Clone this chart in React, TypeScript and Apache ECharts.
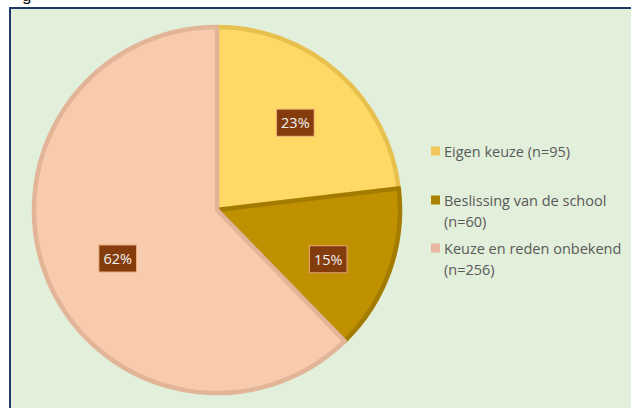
import React, { useEffect, useRef } from "react";
import * as echarts from "echarts";

const categories = ["Eigen keuze", "Beslissing van de school", "Keuze en reden onbekend"];
const counts = [95, 60, 256];
const sliceColors = ["#ffd966", "#bf9000", "#f8cbad"];
const sliceBorders = ["#e8c04e", "#a37b00", "#e2b498"];
const legendIconColors = ["#f0c85a", "#ad8200", "#e8b9a0"];
const labelNudges = [[0, 1], [0, 10], [10, 4]];

const legendName = (i: number) => `${categories[i]} (n=${counts[i]})`;

export default function App() {
  const ref = useRef<HTMLDivElement>(null);
  useEffect(() => {
    if (!ref.current) return;
    const chart = echarts.init(ref.current, undefined, { renderer: "svg" });
    const names = categories.map((_, i) => legendName(i));
    const legendTops = [140.5, 168.5, 216.5];
    const legendFmt = (name: string) => {
      const i = names.indexOf(name);
      if (i === 0) return `${categories[i]} (n=${counts[i]})`;
      return `\n${categories[i]}\n(n=${counts[i]})`;
    };
    chart.setOption({
      animation: false,
      backgroundColor: "#ffffff",
      graphic: [
        {
          type: "rect",
          shape: { x: 10, y: 8, width: 660, height: 440 },
          style: { fill: "#e2efda", stroke: "#1f3864", lineWidth: 2 },
          z: -10,
        },
        {
          type: "text",
          x: 22,
          y: -13,
          style: { text: "g", font: "17px 'Liberation Sans', sans-serif", fill: "#111" },
        },
      ],
      legend: names.map((n, i) => ({
        data: [{ name: n, itemStyle: { color: legendIconColors[i], borderWidth: 0 } }],
        orient: "vertical",
        left: 431,
        top: legendTops[i],
        padding: 0,
        itemWidth: 9,
        itemHeight: 9,
        itemGap: 0,
        icon: "rect",
        formatter: legendFmt,
        itemStyle: { borderWidth: 0 },
        textStyle: {
          color: "#595959",
          fontSize: 14.5,
          lineHeight: 21,
          fontFamily: "'Open Sans', sans-serif",
          padding: [0, 0, 0, -1],
        },
        selectedMode: false,
      })),
      series: [
        {
          type: "pie",
          center: [217, 210],
          radius: [0, 183],
          startAngle: 90,
          clockwise: true,
          silent: true,
          label: { show: false },
          labelLine: { show: false },
          data: counts.map((v, i) => ({
            name: names[i],
            value: v,
            itemStyle: { color: sliceColors[i], borderColor: sliceBorders[i], borderWidth: 4.5 },
          })),
        },
        {
          type: "pie",
          center: [217, 210],
          radius: [0, 230],
          startAngle: 90,
          clockwise: true,
          silent: true,
          percentPrecision: 0,
          itemStyle: { color: "rgba(0,0,0,0)", borderWidth: 0 },
          label: {
            show: true,
            position: "inside",
            formatter: "{d}%",
            color: "#f2f2f2",
            fontSize: 14.5,
            lineHeight: 16,
            fontFamily: "'Open Sans', sans-serif",
            backgroundColor: "#843c0c",
            borderColor: "#e8a878",
            borderWidth: 1,
            padding: [5, 4, 5, 4],
          },
          labelLine: { show: false },
          labelLayout: (p: any) => ({ dx: labelNudges[p.dataIndex][0], dy: labelNudges[p.dataIndex][1] }),
          data: counts.map((v, i) => ({ name: names[i], value: v })),
        },
      ],
    });
    return () => chart.dispose();
  }, []);
  return (
    <div
      ref={ref}
      style={{ position: "fixed", left: 0, top: 0, width: 631, height: 408 }}
    />
  );
}
